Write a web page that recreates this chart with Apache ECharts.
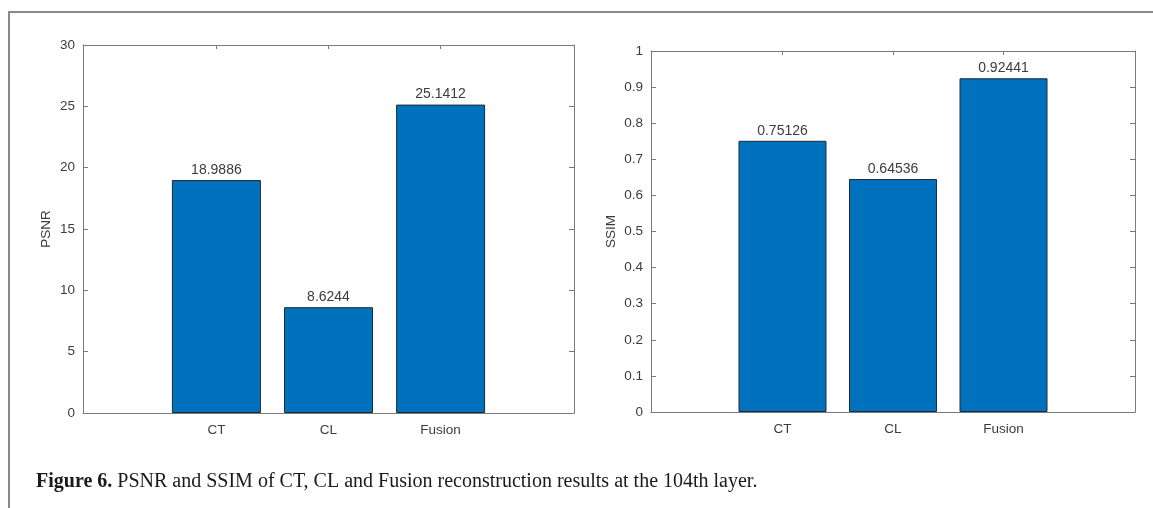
<!DOCTYPE html>
<html>
<head>
<meta charset="utf-8">
<script src="https://cdn.jsdelivr.net/npm/echarts@6/dist/echarts.min.js"></script>
<style>html,body{margin:0;padding:0;background:#fff;}#c{width:1153px;height:508px;}</style>
</head>
<body>
<div id="c"></div>
<script>
const categories = ['CT', 'CL', 'Fusion'];
const positions = [1, 2, 3];
const psnrValues = [18.9886, 8.6244, 25.1412];
const ssimValues = [0.75126, 0.64536, 0.92441];
const psnrTicks = { min: 0, max: 30, interval: 5 };
const ssimTicks = { min: 0, max: 1, interval: 0.1 };
const caption = 'Figure 6.';
const captionText = ' PSNR and SSIM of CT, CL and Fusion reconstruction results at the 104th layer.';

const axisColor = '#7a7a7a';
const textColor = '#3c3c3c';
const font = 'Liberation Sans';

function xAxes(gridIndex) {
  const base = {
    type: 'value', gridIndex: gridIndex, min: -0.19, max: 4.19,
    splitLine: { show: false },
    axisLine: { onZero: false, lineStyle: { color: axisColor, width: 1 } },
  };
  return [
    Object.assign({}, base, {
      position: 'bottom',
      axisTick: { inside: true, length: 4, customValues: positions, lineStyle: { color: axisColor } },
      axisLabel: {
        customValues: positions, margin: 10, color: textColor, fontFamily: font, fontSize: 13.5,
        formatter: v => categories[positions.indexOf(v)] || ''
      }
    }),
    Object.assign({}, base, {
      position: 'top',
      axisTick: { inside: true, length: 4, customValues: positions, lineStyle: { color: axisColor } },
      axisLabel: { show: false }
    })
  ];
}

function yAxes(gridIndex, t, name, gap) {
  const base = {
    type: 'value', gridIndex: gridIndex, min: t.min, max: t.max, interval: t.interval,
    splitLine: { show: false },
    axisLine: { show: true, onZero: false, lineStyle: { color: axisColor, width: 1 } },
    axisTick: { show: true, inside: true, length: 5, lineStyle: { color: axisColor } },
  };
  return [
    Object.assign({}, base, {
      position: 'left', name: name, nameLocation: 'middle', nameGap: gap,
      nameTextStyle: { color: textColor, fontFamily: font, fontSize: 13.5 },
      axisLabel: { margin: 8, color: textColor, fontFamily: font, fontSize: 13.5 }
    }),
    Object.assign({}, base, { position: 'right', axisLabel: { show: false } })
  ];
}

function barSeries(axisIdx, values) {
  return {
    type: 'bar',
    xAxisIndex: axisIdx * 2, yAxisIndex: axisIdx * 2,
    data: positions.map((p, i) => [p, values[i]]),
    barWidth: axisIdx === 0 ? 89 : 88,
    itemStyle: { color: '#0072BD', borderColor: '#1c2b3a', borderWidth: 1 },
    label: {
      show: true, position: 'top', distance: 3, color: textColor, fontFamily: font, fontSize: 14,
      formatter: p => String(values[p.dataIndex])
    },
    silent: true,
    animation: false
  };
}

const chart = echarts.init(document.getElementById('c'), null, { renderer: 'canvas' });
chart.setOption({
  animation: false,
  backgroundColor: '#ffffff',
  grid: [
    { left: 83, top: 45, width: 491, height: 368 },
    { left: 651, top: 51, width: 484, height: 361 }
  ],
  xAxis: xAxes(0).concat(xAxes(1)),
  yAxis: yAxes(0, psnrTicks, 'PSNR', 30).concat(yAxes(1, ssimTicks, 'SSIM', 33)),
  series: [barSeries(0, psnrValues), barSeries(1, ssimValues)],
  graphic: [
    {
      type: 'polyline', silent: true,
      shape: { points: [[9, 508], [9, 12], [1153, 12]] },
      style: { stroke: '#8a8a8a', lineWidth: 2, fill: null }
    },
    {
      type: 'text', left: 36, top: 472, silent: true,
      style: {
        text: '{b|' + caption + '}{r|' + captionText + '}',
        rich: {
          b: { fontFamily: 'Liberation Serif', fontWeight: 'bold', fontSize: 20, fill: '#1a1a1a' },
          r: { fontFamily: 'Liberation Serif', fontSize: 20, fill: '#1a1a1a' }
        }
      }
    }
  ]
});
</script>
</body>
</html>
